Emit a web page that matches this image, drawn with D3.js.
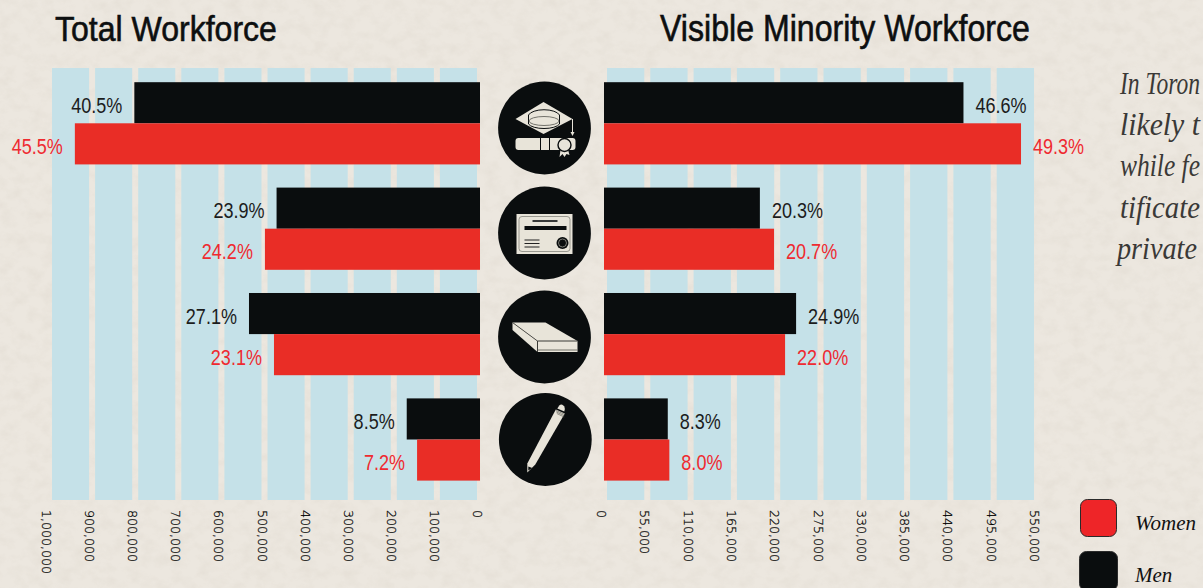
<!DOCTYPE html>
<html><head><meta charset="utf-8">
<script src="https://cdnjs.cloudflare.com/ajax/libs/d3/7.8.5/d3.min.js"></script>
<style>
html,body{margin:0;padding:0;background:#ece7df;overflow:hidden}
svg{display:block}
</style></head><body>
<svg id="c" width="1203" height="588"></svg>
<script>
const categories = ["Degree", "Certificate", "High school", "Less than high school"];
const totalMen = [802000, 472000, 536000, 170000];
const totalWomen = [940000, 499000, 478000, 146000];
const minorityMen = [456600, 198000, 244000, 81000];
const minorityWomen = [529700, 216000, 230000, 83000];
const totalMenPct = ["40.5", "23.9", "27.1", "8.5"];
const totalWomenPct = ["45.5", "24.2", "23.1", "7.2"];
const minorityMenPct = ["46.6", "20.3", "24.9", "8.3"];
const minorityWomenPct = ["49.3", "20.7", "22.0", "8.0"];
const totalTicks = [0,100000,200000,300000,400000,500000,600000,700000,800000,900000,1000000];
const minorityTicks = [0,55000,110000,165000,220000,275000,330000,385000,440000,495000,550000];
const noteLines = ["In Toron", "likely t", "while fe", "tificate", "private"];
const legendItems = ["Women", "Men"];

const W = 1203, H = 588;
const BLACK = "#0a0d0e", RED = "#e92d26", REDTXT = "#ef2a30", STRIPE = "#c5e1e8", PAPER = "#ece7df", ICON = "#e8e4d9";
const HAND = "'Liberation Sans',sans-serif";

const svg = d3.select("#c");
const defs = svg.append("defs");
const f = defs.append("filter").attr("id","paper").attr("x",0).attr("y",0).attr("width","100%").attr("height","100%");
f.append("feTurbulence").attr("type","fractalNoise").attr("baseFrequency","0.07 0.09").attr("numOctaves",4).attr("seed",7).attr("result","n");
f.append("feColorMatrix").attr("in","n").attr("type","matrix")
 .attr("values","0 0 0 0 0.50  0 0 0 0 0.44  0 0 0 0 0.36  0.7 0 0 0 -0.28");
svg.append("rect").attr("width",W).attr("height",H).attr("fill",PAPER);
svg.append("rect").attr("width",W).attr("height",H).attr("filter","url(#paper)").attr("opacity",0.35);

const xL = d3.scaleLinear().domain([0,1000000]).range([480,49]);
const xR = d3.scaleLinear().domain([0,550000]).range([604,1037]);
const y = d3.scaleBand().domain(categories).range([70.6,492.2]).paddingInner(0.22).paddingOuter(0.11);
const ySex = d3.scaleBand().domain(["men","women"]).range([0,y.bandwidth()]);
const stripeTop = 68, stripeBottom = 500, axisY = 504;

function panel(x, ticks, men, women, menPct, womenPct, dir){
  const g = svg.append("g");
  g.selectAll("rect.stripe").data(d3.pairs(ticks)).join("rect").attr("class","stripe")
    .attr("x",d=>Math.min(x(d[0]),x(d[1]))+3)
    .attr("width",d=>Math.abs(x(d[1])-x(d[0]))-6)
    .attr("y",stripeTop).attr("height",stripeBottom-stripeTop).attr("fill",STRIPE);
  [["men",men,menPct,BLACK,"#1c1c1c"],["women",women,womenPct,RED,REDTXT]].forEach(([s,vals,pct,col,txt])=>{
    g.selectAll("rect."+s).data(categories).join("rect").attr("class",s)
      .attr("x",(c,i)=>Math.min(x(0),x(vals[i])))
      .attr("width",(c,i)=>Math.abs(x(vals[i])-x(0)))
      .attr("y",c=>y(c)+ySex(s)).attr("height",ySex.bandwidth()).attr("fill",col);
    g.selectAll("text."+s).data(categories).join("text").attr("class",s)
      .attr("transform",(c,i)=>`translate(${x(vals[i])+dir*12},${y(c)+ySex(s)+ySex.bandwidth()/2+10}) scale(0.82,1)`)
      .attr("text-anchor",dir<0?"end":"start")
      .attr("font-family",HAND).attr("fill",txt).attr("font-size",22)
      .text((c,i)=>pct[i]+"%");
  });
  const axis = d3.axisBottom(x).tickValues(ticks).tickSize(0).tickFormat(d3.format(","));
  const ag = g.append("g").attr("transform",`translate(0,${axisY})`).call(axis);
  ag.select(".domain").remove();
  ag.selectAll("text").attr("font-family","'DejaVu Sans',sans-serif").attr("font-weight",200)
    .attr("font-size",12.6).attr("fill","#000").attr("stroke","#000").attr("stroke-width",0.25)
    .attr("text-anchor","start").attr("dy",null)
    .attr("transform","translate(-4,4) rotate(90)").attr("y",0).attr("x",2).attr("dominant-baseline","middle");
}
panel(xL,totalTicks,totalMen,totalWomen,totalMenPct,totalWomenPct,-1);
panel(xR,minorityTicks,minorityMen,minorityWomen,minorityMenPct,minorityWomenPct,1);

// squeeze a text horizontally so that it spans the wanted width
function fitWidth(sel, tx, ty, width){
  const natural = sel.node().getComputedTextLength();
  sel.attr("transform",`translate(${tx},${ty}) scale(${width/natural},1)`);
}

// titles
[["Total Workforce",55,222,41],["Visible Minority Workforce",660,370,41]].forEach(([s,tx,len,base])=>{
  const t = svg.append("text").attr("font-family",HAND).attr("font-size",36)
    .attr("fill","#0d0f10").attr("stroke","#0d0f10").attr("stroke-width",0.6).text(s);
  fitWidth(t,tx,base,len);
});

// icons
const centres = [[544.5,128],[544.5,233],[544.5,337],[545.3,439.5]];
const icons = svg.selectAll("g.icon").data(categories).join("g").attr("class","icon")
  .attr("transform",(c,i)=>`translate(${centres[i][0]},${centres[i][1]})`);
icons.append("circle").attr("r",46.4).attr("fill",BLACK);
const poly = (g,pts,fill,stroke,sw)=>g.append("polygon").attr("points",pts.join(" ")).attr("fill",fill).attr("stroke",stroke||"none").attr("stroke-width",sw||0);
const line = (g,a,b,c,d,col,w)=>g.append("line").attr("x1",a).attr("y1",b).attr("x2",c).attr("y2",d).attr("stroke",col).attr("stroke-width",w);

// cap and diploma
{
  const g = d3.select(icons.nodes()[0]);
  poly(g,[[-29,-9],[-1,-26],[28,-9],[-1,6]],ICON);
  g.append("path").attr("d","M-16,-13 A16,7 0 0 1 15,-13 L15,-4 A16,6 0 0 1 -16,-4 Z").attr("fill",ICON).attr("stroke",BLACK).attr("stroke-width",1);
  g.append("ellipse").attr("cx",-0.5).attr("cy",-7).attr("rx",15).attr("ry",4.5).attr("fill","none").attr("stroke","#55564f").attr("stroke-width",0.8);
  line(g,28,-9,28,5,ICON,1);
  poly(g,[[26,4],[30,4],[28,8]],ICON);
  g.append("rect").attr("x",-29).attr("y",10).attr("width",60).attr("height",12).attr("rx",3).attr("fill",ICON);
  g.append("rect").attr("x",-4).attr("y",9.5).attr("width",9).attr("height",13).attr("fill",ICON).attr("stroke",BLACK).attr("stroke-width",1);
  poly(g,[[16,22],[15,29],[18,26],[20,29],[22,26],[25,27],[23,20]],ICON);
  g.append("circle").attr("cx",20).attr("cy",17).attr("r",6.5).attr("fill",ICON).attr("stroke",BLACK).attr("stroke-width",1.4);
}
// certificate
{
  const g = d3.select(icons.nodes()[1]);
  g.append("rect").attr("x",-28).attr("y",-19).attr("width",56).attr("height",40).attr("fill",ICON);
  g.append("rect").attr("x",-25.5).attr("y",-16.5).attr("width",51).attr("height",35).attr("rx",3).attr("fill","none").attr("stroke","#77776e").attr("stroke-width",0.7);
  line(g,-12,-12,13,-12,BLACK,1.6);
  line(g,-20,-5,22,-5,BLACK,4);
  [7,10.5,14].forEach(d=>line(g,-20,d,-5,d,"#222",1));
  g.append("circle").attr("cx",18).attr("cy",10).attr("r",6).attr("fill",BLACK);
  g.append("circle").attr("cx",18).attr("cy",10).attr("r",4).attr("fill",BLACK).attr("stroke",ICON).attr("stroke-width",0.5);
}
// book
{
  const g = d3.select(icons.nodes()[2]);
  poly(g,[[-32,-14.5],[1,-14.5],[33,4],[-7,4]],ICON);
  poly(g,[[-32,-14.5],[-7,4],[-7,15],[-32,-7]],ICON);
  poly(g,[[-7,4],[33,4],[33,15],[-7,15]],ICON);
  line(g,-32,-14.5,-7,4,"#3a3a36",0.8);
  line(g,-7,4,33,4,"#3a3a36",1);
  line(g,-7,4,-7,15,"#3a3a36",1);
  line(g,-7,13,33,13,"#55554e",0.8);
}
// pencil
{
  const g = d3.select(icons.nodes()[3]);
  g.append("path").attr("d","M12,-31 L14,-34 Q16,-36 18,-34 L19,-33 Q20,-31 19,-28 Z").attr("fill",ICON);
  poly(g,[[10.5,-30],[19.5,-26],[-10,25],[-18,33],[-18,24]],ICON);
  [-29,-27.5,-26].forEach((d,i)=>line(g,10.5+i*0.5,d,19,d+3.6,"#55554e",0.6));
  poly(g,[[-17,27],[-13,28.5],[-17,31]],BLACK);
}

// note lines, squeezed to end at the window edge like the reference
noteLines.forEach((s,i)=>{
  const t = svg.append("text").attr("class","note")
    .attr("font-family","'Liberation Serif',serif").attr("font-style","italic")
    .attr("font-size",31).attr("fill","#3a3937").text(s);
  fitWidth(t, i===4?1117:1120, 94+i*41.2, 80);
});

// legend
const lg = svg.selectAll("g.lg").data(legendItems).join("g").attr("class","lg")
  .attr("transform",(d,i)=>`translate(${1080-i},${499+i*52})`);
lg.append("rect").attr("x",0.5).attr("y",0.5).attr("width",(d,i)=>36+i*2).attr("height",(d,i)=>37+i*2).attr("rx",7)
  .attr("fill",(d,i)=>i?BLACK:"#ee2528").attr("stroke","#2a2a2a").attr("stroke-width",1);
lg.append("text").attr("x",(d,i)=>55+i).attr("y",31).attr("font-family","'Liberation Serif',serif").attr("font-style","italic")
  .attr("font-size",21).attr("fill","#111").text(d=>d);
</script>
</body></html>
